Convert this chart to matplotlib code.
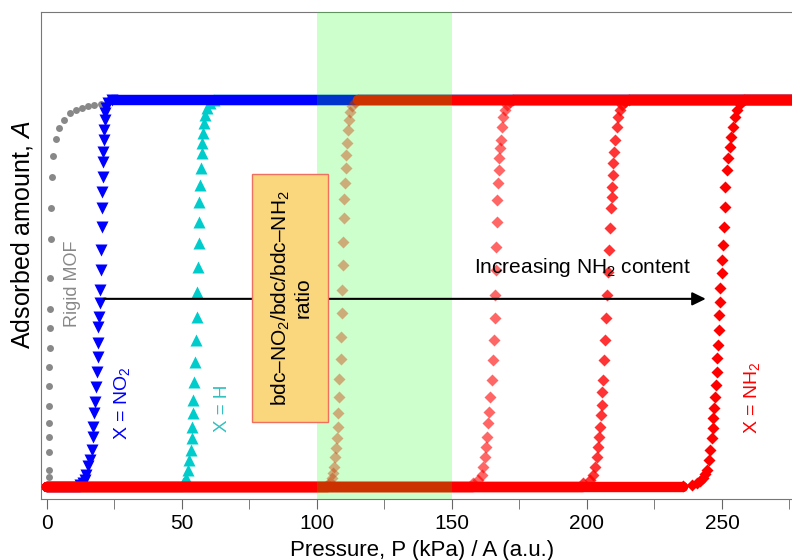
import matplotlib
matplotlib.use("Agg")
import matplotlib.pyplot as plt
from matplotlib.patches import Rectangle
from matplotlib.ticker import MultipleLocator

plt.rcParams["font.family"] = ["Liberation Sans", "DejaVu Sans"]
plt.rcParams["mathtext.fontset"] = "custom"
plt.rcParams["mathtext.rm"] = "Liberation Sans"
plt.rcParams["mathtext.it"] = "Liberation Sans:italic"

# Adsorbed amount levels (a.u.) before and after the gate opening
A_EMPTY = 0.0
A_SAT = 1.0
P_END = 285.0

# Rigid MOF (Langmuir-type uptake)
rigid_p = [0.7, 0.75, 0.8, 0.8, 0.85, 0.85, 0.9, 0.9, 0.95, 1.0, 1.05, 1.1,
           1.4, 1.5, 1.8, 2.3, 3.3, 4.6, 6.3, 8.5, 10.7, 13.0, 15.2, 17.6,
           20.0, 22.4]
rigid_a = [0.026, 0.044, 0.09, 0.13, 0.165, 0.21, 0.26, 0.31, 0.36, 0.41,
           0.46, 0.54, 0.64, 0.72, 0.80, 0.855, 0.90, 0.928, 0.948, 0.966,
           0.974, 0.98, 0.984, 0.987, 0.99, 0.992]

# X = NO2
no2_p = [12.2, 13.3, 14.1, 14.5, 15.3, 15.9, 16.7, 17.0, 17.0, 17.4, 17.8,
         18.1, 18.5, 18.9, 18.9, 18.9, 19.3, 19.6, 19.6, 20.0, 20.0, 20.4,
         20.4, 20.4, 20.7, 20.7, 20.7, 21.1, 21.1, 21.5, 21.5, 21.9, 22.6,
         24.1]
no2_a = [0.005, 0.010, 0.018, 0.030, 0.055, 0.070, 0.096, 0.129, 0.155,
         0.191, 0.220, 0.258, 0.297, 0.336, 0.372, 0.413, 0.439, 0.475,
         0.509, 0.561, 0.612, 0.672, 0.721, 0.762, 0.801, 0.840, 0.866,
         0.897, 0.922, 0.948, 0.966, 0.979, 0.992, 1.0]

# X = H
h_p = [50.4, 51.5, 52.2, 52.6, 53.3, 53.7, 53.7, 54.1, 54.1, 54.4, 54.8,
       55.2, 55.6, 55.6, 55.9, 56.3, 56.3, 56.3, 56.7, 57.0, 57.4, 57.4,
       57.8, 58.1, 58.5, 59.3, 60.4, 61.9]
h_a = [0.010, 0.023, 0.044, 0.070, 0.096, 0.127, 0.155, 0.191, 0.225, 0.271,
       0.323, 0.380, 0.439, 0.504, 0.568, 0.630, 0.685, 0.736, 0.780, 0.824,
       0.863, 0.889, 0.915, 0.940, 0.961, 0.979, 0.992, 1.0]

# Mixed-linker frameworks with increasing bdc-NH2 fraction
mix1_p = [104.1, 104.8, 105.6, 105.9, 106.3, 106.7, 107.0, 107.4, 107.8,
          107.8, 108.1, 108.1, 108.9, 108.9, 109.3, 109.3, 109.6, 109.6,
          110.0, 110.0, 110.4, 110.7, 110.7, 111.1, 111.5, 111.9, 112.2,
          113.0, 114.1, 115.2]
mix1_a = [0.005, 0.013, 0.023, 0.036, 0.052, 0.078, 0.101, 0.127, 0.155,
          0.191, 0.233, 0.279, 0.331, 0.388, 0.450, 0.509, 0.574, 0.633,
          0.695, 0.744, 0.786, 0.824, 0.858, 0.889, 0.922, 0.948, 0.969,
          0.985, 0.995, 1.0]

mix2_p = [157.8, 159.6, 161.1, 161.5, 162.2, 162.6, 163.0, 163.3, 163.7,
          164.1, 164.8, 165.2, 165.6, 165.9, 165.9, 166.3, 166.3, 166.7,
          166.7, 167.0, 167.4, 167.4, 167.8, 168.1, 168.5, 168.9, 169.6,
          170.4, 171.5, 172.6]
mix2_a = [0.010, 0.018, 0.031, 0.052, 0.078, 0.103, 0.129, 0.165, 0.194,
          0.233, 0.276, 0.328, 0.380, 0.437, 0.496, 0.561, 0.620, 0.685,
          0.742, 0.786, 0.819, 0.850, 0.876, 0.897, 0.930, 0.956, 0.974,
          0.987, 0.995, 1.0]

mix3_p = [198.5, 201.1, 202.2, 203.0, 203.7, 204.1, 204.4, 204.8, 205.2,
          205.6, 205.6, 205.9, 206.3, 206.7, 207.0, 207.4, 207.8, 208.1,
          208.5, 208.9, 209.3, 209.3, 209.6, 209.6, 210.0, 210.4, 211.1,
          211.5, 212.2, 213.0, 214.1, 215.6]
mix3_a = [0.010, 0.018, 0.031, 0.052, 0.078, 0.103, 0.129, 0.155, 0.186,
          0.212, 0.245, 0.276, 0.328, 0.380, 0.437, 0.496, 0.556, 0.612,
          0.669, 0.721, 0.749, 0.775, 0.806, 0.837, 0.866, 0.897, 0.930,
          0.956, 0.974, 0.987, 0.995, 1.0]

# X = NH2
nh2_p = [235.6, 238.9, 240.7, 241.9, 243.0, 243.7, 244.4, 245.2, 245.6,
         246.3, 246.7, 246.7, 247.0, 247.4, 247.8, 248.1, 248.1, 248.5,
         248.9, 248.9, 249.3, 249.3, 250.0, 250.0, 250.4, 250.7, 251.1,
         251.1, 251.9, 252.2, 253.0, 253.3, 254.1, 254.8, 255.6, 256.7,
         258.1]
nh2_a = [0.003, 0.005, 0.010, 0.016, 0.023, 0.034, 0.044, 0.070, 0.096,
         0.127, 0.152, 0.178, 0.204, 0.233, 0.264, 0.297, 0.333, 0.367,
         0.406, 0.444, 0.478, 0.514, 0.553, 0.587, 0.625, 0.672, 0.724,
         0.775, 0.819, 0.850, 0.879, 0.904, 0.930, 0.956, 0.974, 0.990,
         1.0]

ratio_window = (100, 150)
xticks_major = [0, 50, 100, 150, 200, 250]


def draw_isotherm(ax, p, a, color, marker, ms, alpha, z):
    """Dense baseline and plateau as thick bands, the step as markers"""
    band = dict(color=color, lw=7.5, solid_capstyle="round", zorder=z)
    ax.plot([0, p[0]], [A_EMPTY, A_EMPTY], **band)
    ax.plot([p[-1], P_END], [A_SAT, A_SAT], **band)
    ax.plot(p, a, ls="none", marker=marker, ms=ms, mfc=color, mec="none",
            alpha=alpha, zorder=z)


fig = plt.figure(figsize=(7.92, 5.6), dpi=100)
ax = fig.add_axes([41 / 792, 61 / 560, 762 / 792, 487 / 560])

ax.plot(rigid_p, rigid_a, ls="none", marker="o", ms=5, mfc="#888888",
        mec="none", zorder=2)
draw_isotherm(ax, h_p, h_a, "#00cccc", "^", 8, 1.0, 3)
draw_isotherm(ax, no2_p, no2_a, "#0000ff", "v", 8, 1.0, 4)
draw_isotherm(ax, mix1_p, mix1_a, "#ff0000", "D", 6.5, 0.4, 5)
draw_isotherm(ax, mix2_p, mix2_a, "#ff0000", "D", 6.5, 0.6, 6)
draw_isotherm(ax, mix3_p, mix3_a, "#ff0000", "D", 6.5, 0.8, 7)
draw_isotherm(ax, nh2_p, nh2_a, "#ff0000", "D", 6.5, 1.0, 8)

# window of linker ratios
ax.axvspan(*ratio_window, color=(0, 1, 0), alpha=0.2, lw=0, zorder=9)

ax.annotate("", xy=(244, 0.486), xytext=(21, 0.486),
            arrowprops=dict(arrowstyle="-|>,head_length=0.45,head_width=0.22",
                            color="black", lw=1.5, mutation_scale=18,
                            shrinkA=0, shrinkB=0),
            zorder=10)
ax.text(198.5, 0.566, "Increasing NH$_2$ content", fontsize=15,
        ha="center", va="center", zorder=12)

ax.add_patch(Rectangle((75.9, 0.168), 28.2, 0.641, facecolor="#fad67c",
                       edgecolor="#f07060", lw=1, zorder=11))
ax.text(90.5, 0.489, "bdc\u2013NO$_2$/bdc/bdc\u2013NH$_2$\nratio",
        rotation=90, fontsize=15, ha="center", va="center",
        multialignment="center", linespacing=1.15, zorder=12)

ax.text(9.3, 0.525, "Rigid MOF", rotation=90, color="#888888", fontsize=13,
        ha="center", va="center", zorder=12)
ax.text(27.8, 0.217, "X = NO$_2$", rotation=90, color="#0000ff", fontsize=14,
        ha="center", va="center", zorder=12)
ax.text(65.2, 0.204, "X = H", rotation=90, color="#33c0c0", fontsize=13.5,
        ha="center", va="center", zorder=12)
ax.text(261, 0.23, "X = NH$_2$", rotation=90, color="#ff0000", fontsize=14,
        ha="center", va="center", zorder=12)

ax.set_xlim(-2.2, 280)
ax.set_ylim(-0.031, 1.227)
ax.set_xticks(xticks_major)
ax.xaxis.set_minor_locator(MultipleLocator(25))
ax.set_yticks([])
ax.tick_params(axis="x", which="both", direction="out", length=7,
               color="#666666", pad=4, labelsize=15)
for side in ["left", "bottom", "top", "right"]:
    ax.spines[side].set_color("#777777")
    ax.spines[side].set_linewidth(0.8)

ax.set_xlabel("Pressure, P (kPa) / A (a.u.)", fontsize=16, labelpad=5)
ax.set_ylabel("Adsorbed amount, $A$", fontsize=18)
ax.yaxis.set_label_coords(-0.008, 0.542)

fig.savefig("out.png", dpi=100)
